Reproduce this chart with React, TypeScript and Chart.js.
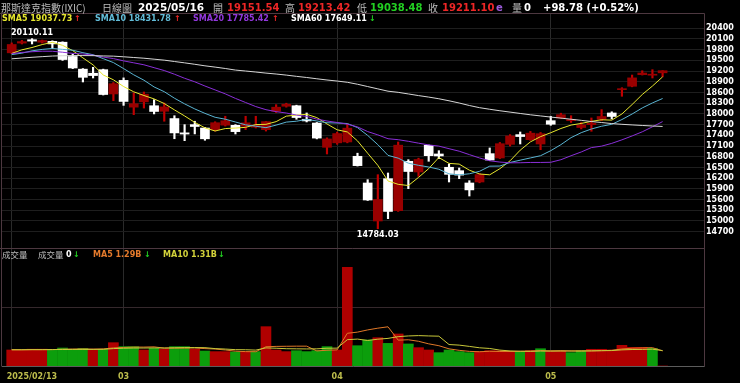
import React, { useEffect, useRef } from "react";
import { Chart, registerables } from "chart.js";

Chart.register(...registerables);

// ---------------- data ----------------
const X_TICK_INDEX = [0, 11, 32, 53];
const X_TICK_LABELS = ["2025/02/13", "03", "04", "05"];
const PRICE_TICKS = [14700, 15000, 15300, 15600, 15900, 16200, 16500, 16800, 17100, 17400, 17700, 18000, 18300, 18600, 18900, 19200, 19500, 19800, 20100, 20400];
const VOL_TICKS_B = [5];

const OPEN = [
  19712, 19985, 20080, 20010, 20035, 20010, 19610, 19255, 19140, 19240,
  18560, 18940, 18190, 18340, 18230, 18075, 17870, 17470, 17700, 17605,
  17560, 17685, 17680, 17655, 17630, 17560, 18075, 18215, 18230, 17850,
  17745, 17065, 17190, 17215, 16813, 16065, 15000, 16186, 15290, 16673,
  16373, 17121, 16878, 16505, 16410, 16065, 16093, 16887, 16766, 17148,
  17420, 17278, 17158, 17811, 17887, 17810, 17620, 17700, 17850, 18027,
  18680, 18775, 19100, 19085, 19151.54,
];
const HIGH = [
  19990, 20060, 20110.11, 20070, 20050, 20020, 19680, 19270, 19307, 19255,
  18880, 19010, 18590, 18615, 18400, 18307, 17950, 17700, 17795, 17620,
  17780, 17934, 17700, 17934, 17934, 17790, 18260, 18300, 18245, 18027,
  17760, 17330, 17490, 17718, 16900, 16158, 16298, 16345, 17214, 16718,
  16760, 17130, 16970, 16597, 16485, 16130, 16330, 17046, 17200, 17420,
  17494, 17510, 17480, 17934, 18020, 17950, 17760, 17887, 18121, 18060,
  18735, 19090, 19210, 19240, 19213.42,
];
const LOW = [
  19690, 19960, 19960, 19985, 19830, 19500, 19270, 18895, 19007, 18530,
  18372, 18240, 17980, 18165, 18000, 17795, 17305, 17250, 17440, 17262,
  17520, 17660, 17438, 17560, 17606, 17520, 18040, 18190, 17850, 17775,
  17300, 16878, 17150, 17190, 16540, 15575, 14784.03, 15065, 15270, 15905,
  16251, 16673, 16746, 16093, 16186, 15700, 16070, 16700, 16750, 17100,
  17158, 17260, 16998, 17681, 17870, 17760, 17580, 17514, 17811, 17860,
  18494, 18760, 19090, 19007, 19038.48,
];
const CLOSE = [
  19945.64, 20027, 20041, 20056, 19962, 19524, 19287, 19026, 19075, 18544,
  18847, 18350, 18285, 18553, 18069, 18196, 17468, 17436, 17648, 17303,
  17754, 17809, 17504, 17751, 17692, 17784, 18189, 18272, 17899, 17804,
  17323, 17299, 17450, 17601, 16551, 15588, 15603, 15268, 17125, 16387,
  16724, 16831, 16823, 16307, 16286, 15871, 16300, 16708, 17166, 17383,
  17366, 17461, 17446, 17711, 17978, 17844, 17690, 17738, 17928, 17929,
  18708, 19010, 19147, 19112, 19211.1,
];
const SMA5 = [
  19695, 19796, 19861, 19944, 20006, 19922, 19774, 19571, 19375, 19091,
  18956, 18768, 18620, 18516, 18421, 18291, 18114, 17944, 17763, 17610,
  17522, 17590, 17604, 17624, 17702, 17708, 17784, 17938, 17967, 17990,
  17897, 17719, 17555, 17495, 17245, 16898, 16559, 16122, 16027, 15994,
  16221, 16467, 16778, 16614, 16594, 16424, 16317, 16294, 16466, 16686,
  16985, 17217, 17364, 17473, 17592, 17688, 17734, 17792, 17836, 17826,
  17999, 18263, 18544, 18781, 19038,
];
const SMA10 = [
  19663, 19703, 19768, 19808, 19835, 19809, 19785, 19716, 19659, 19549,
  19439, 19271, 19096, 18945, 18756, 18623, 18441, 18282, 18140, 18016,
  17906, 17852, 17774, 17694, 17656, 17615, 17687, 17771, 17796, 17846,
  17803, 17752, 17746, 17731, 17617, 17398, 17139, 16839, 16761, 16620,
  16560, 16513, 16450, 16321, 16294, 16323, 16392, 16536, 16540, 16640,
  16704, 16767, 16829, 16970, 17139, 17336, 17475, 17578, 17655, 17709,
  17843, 17998, 18168, 18308, 18432,
];
const SMA20 = [
  19688, 19723, 19743, 19758, 19756, 19729, 19696, 19680, 19647, 19593,
  19551, 19487, 19432, 19377, 19296, 19216, 19113, 18999, 18900, 18782,
  18673, 18562, 18435, 18320, 18206, 18119, 18064, 18026, 17968, 17931,
  17854, 17802, 17760, 17713, 17637, 17506, 17413, 17305, 17278, 17233,
  17181, 17132, 17098, 17026, 16956, 16860, 16766, 16687, 16651, 16630,
  16632, 16640, 16640, 16645, 16717, 16829, 16934, 17057, 17097, 17175,
  17274, 17383, 17499, 17639, 17785,
];
const SMA60 = [
  19544, 19566, 19587, 19605, 19622, 19631, 19636, 19635, 19633, 19625,
  19619, 19601, 19581, 19561, 19534, 19507, 19469, 19431, 19391, 19348,
  19312, 19273, 19229, 19202, 19174, 19144, 19118, 19088, 19053, 19021,
  18985, 18951, 18921, 18887, 18832, 18767, 18702, 18637, 18605, 18560,
  18514, 18472, 18425, 18368, 18306, 18236, 18175, 18131, 18089, 18051,
  18013, 17976, 17944, 17912, 17883, 17851, 17820, 17787, 17759, 17730,
  17709, 17692, 17677, 17662, 17649,
];
// volume in billions
const VOLUME_B = [
  1.38, 1.38, 1.45, 1.45, 1.40, 1.55, 1.45, 1.52, 1.38, 1.44,
  2.01, 1.67, 1.67, 1.38, 1.52, 1.44, 1.67, 1.67, 1.44, 1.29,
  1.24, 1.24, 1.21, 1.24, 1.24, 3.39, 1.38, 1.24, 1.32, 1.24,
  1.32, 1.67, 1.38, 8.50, 1.75, 2.24, 2.44, 1.95, 2.76, 1.90,
  1.58, 1.38, 1.15, 1.38, 1.24, 1.15, 1.24, 1.32, 1.32, 1.24,
  1.24, 1.32, 1.49, 1.27, 1.27, 1.15, 1.32, 1.44, 1.44, 1.38,
  1.78, 1.61, 1.61, 1.52, 0,
];
const VOLUME_UP = [
  1, 1, 1, 1, 0, 0, 0, 0, 1, 0,
  1, 0, 0, 1, 0, 1, 0, 0, 1, 0,
  1, 1, 0, 1, 0, 1, 1, 1, 0, 0,
  0, 0, 1, 1, 0, 0, 1, 0, 1, 0,
  1, 1, 0, 0, 0, 0, 1, 1, 1, 1,
  0, 1, 0, 1, 1, 0, 0, 1, 1, 1,
  1, 1, 1, 0, 1,
];
const VOL_MA5_B = [
  1.40, 1.40, 1.41, 1.41, 1.41, 1.45, 1.46, 1.47, 1.46, 1.47,
  1.56, 1.60, 1.63, 1.63, 1.65, 1.54, 1.54, 1.54, 1.55, 1.50,
  1.46, 1.38, 1.28, 1.24, 1.23, 1.66, 1.69, 1.70, 1.71, 1.71,
  1.30, 1.36, 1.39, 2.82, 2.92, 3.11, 3.26, 3.38, 2.23, 2.26,
  2.13, 1.91, 1.75, 1.48, 1.35, 1.26, 1.23, 1.27, 1.25, 1.25,
  1.27, 1.29, 1.32, 1.31, 1.32, 1.30, 1.30, 1.29, 1.32, 1.35,
  1.47, 1.53, 1.56, 1.58, 1.30,
];
const VOL_MA10_B = [
  1.40, 1.40, 1.41, 1.41, 1.42, 1.42, 1.43, 1.43, 1.43, 1.44,
  1.50, 1.53, 1.55, 1.55, 1.56, 1.55, 1.57, 1.59, 1.59, 1.58,
  1.50, 1.46, 1.41, 1.40, 1.37, 1.56, 1.53, 1.49, 1.48, 1.47,
  1.48, 1.53, 1.54, 2.27, 2.32, 2.20, 2.31, 2.38, 2.53, 2.59,
  2.62, 2.59, 2.57, 1.85, 1.80, 1.69, 1.57, 1.51, 1.37, 1.30,
  1.27, 1.26, 1.29, 1.28, 1.29, 1.29, 1.29, 1.31, 1.32, 1.33,
  1.39, 1.42, 1.43, 1.45, 1.33,
];

// ---------------- layout / style ----------------
const X_MIN = -0.954;
const X_MAX = 68.07;
const PRICE_MIN = 10937;
const PRICE_MAX = 20800;
const VOL_MAX = 30.34e9;
const VOL_PANEL_TOP = 10.17e9;

const UP_BODY = "#990000";
const UP_WICK = "#c00000";
const DOWN = "#ffffff";
const VOL_RED = "#b00000";
const VOL_GREEN = "#0c9e0c";
const FRAME = "#4d3840";
const NUMF = '"DejaVu Sans", Verdana, sans-serif';
const CJKF = '"Noto Sans CJK TC", "Noto Sans CJK SC", sans-serif';

const overlay = {
  id: "overlay",
  afterDraw(chart: any) {
    const { ctx, chartArea: a, scales } = chart;
    const xs = scales.x, ys = scales.y, yv = scales.yVol;
    ctx.save();
    ctx.lineWidth = 1;
    ctx.strokeStyle = FRAME;
    ctx.beginPath();
    ctx.moveTo(0, a.top - 0.5);
    ctx.lineTo(a.right + 0.5, a.top - 0.5);
    ctx.moveTo(a.right + 0.5, a.top - 0.5);
    ctx.lineTo(a.right + 0.5, a.bottom + 0.5);
    ctx.moveTo(a.left - 0.5, a.top - 0.5);
    ctx.lineTo(a.left - 0.5, a.bottom + 0.5);
    const sep = Math.round(yv.getPixelForValue(VOL_PANEL_TOP)) + 0.5;
    ctx.moveTo(0, sep);
    ctx.lineTo(a.right + 0.5, sep);
    ctx.stroke();
    ctx.strokeStyle = "#5c5c5c";
    ctx.beginPath();
    ctx.moveTo(a.left, a.bottom + 0.5);
    ctx.lineTo(a.right + 0.5, a.bottom + 0.5);
    ctx.stroke();

    ctx.font = `bold 8px ${NUMF}`;
    ctx.fillStyle = "#bcbc4c";
    ctx.textBaseline = "middle";
    X_TICK_INDEX.forEach((v, k) => {
      const px = xs.getPixelForValue(v);
      ctx.textAlign = k === 0 ? "left" : "center";
      ctx.fillText(X_TICK_LABELS[k], k === 0 ? px - 5 : px, a.bottom + 11);
    });

    let hi = 0, lo = 0;
    HIGH.forEach((v, i) => { if (v > HIGH[hi]) hi = i; });
    LOW.forEach((v, i) => { if (v < LOW[lo]) lo = i; });
    ctx.fillStyle = "#ffffff";
    ctx.textAlign = "center";
    ctx.fillText(HIGH[hi].toFixed(2), xs.getPixelForValue(hi), ys.getPixelForValue(HIGH[hi]) - 6);
    ctx.fillText(LOW[lo].toFixed(2), xs.getPixelForValue(lo), ys.getPixelForValue(LOW[lo]) + 6);
    ctx.restore();
  },
};

type TextItem = { t: string; x: number; y: number; c: string; s: number; cjk?: boolean; b?: boolean };

const GRAY = "#bdbdbd";
const RED = "#ee2626";
const GREEN = "#22d022";
const TEXTS: TextItem[] = [
  { t: "那斯達克指數(IXIC)", x: 1, y: 7.5, c: GRAY, s: 10, cjk: true },
  { t: "日線圖", x: 102, y: 7.5, c: GRAY, s: 10, cjk: true },
  { t: "2025/05/16", x: 138, y: 7.5, c: "#ffffff", s: 10.5, b: true },
  { t: "開", x: 213, y: 7.5, c: GRAY, s: 10, cjk: true },
  { t: "19151.54", x: 227, y: 7.5, c: RED, s: 10, b: true },
  { t: "高", x: 285, y: 7.5, c: GRAY, s: 10, cjk: true },
  { t: "19213.42", x: 298, y: 7.5, c: RED, s: 10, b: true },
  { t: "低", x: 357, y: 7.5, c: GRAY, s: 10, cjk: true },
  { t: "19038.48", x: 370, y: 7.5, c: GREEN, s: 10, b: true },
  { t: "收", x: 428, y: 7.5, c: GRAY, s: 10, cjk: true },
  { t: "19211.10", x: 442, y: 7.5, c: RED, s: 10, b: true },
  { t: "e", x: 496, y: 7.5, c: "#9a5ad8", s: 10, b: true },
  { t: "量", x: 512, y: 7.5, c: GRAY, s: 10, cjk: true },
  { t: "0", x: 524, y: 7.5, c: "#ffffff", s: 10, b: true },
  { t: "+98.78 (+0.52%)", x: 543, y: 7.5, c: "#ffffff", s: 10, b: true },
  { t: "SMA5 19037.73", x: 2, y: 18.5, c: "#e6e62e", s: 8, b: true },
  { t: "↑", x: 74, y: 18.5, c: RED, s: 8, b: true },
  { t: "SMA10 18431.78", x: 95, y: 18.5, c: "#62bcd8", s: 8, b: true },
  { t: "↑", x: 174, y: 18.5, c: RED, s: 8, b: true },
  { t: "SMA20 17785.42", x: 193, y: 18.5, c: "#9238dc", s: 8, b: true },
  { t: "↑", x: 272, y: 18.5, c: RED, s: 8, b: true },
  { t: "SMA60 17649.11", x: 291, y: 18.5, c: "#ffffff", s: 8, b: true },
  { t: "↓", x: 369, y: 18.5, c: GREEN, s: 8, b: true },
  { t: "成交量", x: 2, y: 254, c: GRAY, s: 8.5, cjk: true },
  { t: "成交量", x: 38, y: 254, c: GRAY, s: 8.5, cjk: true },
  { t: "0", x: 66, y: 254, c: "#ffffff", s: 8, b: true },
  { t: "↓", x: 73, y: 254, c: GREEN, s: 8, b: true },
  { t: "MA5 1.29B", x: 93, y: 254, c: "#e47a2c", s: 8, b: true },
  { t: "↓", x: 144, y: 254, c: GREEN, s: 8, b: true },
  { t: "MA10 1.31B", x: 163, y: 254, c: "#d2d23a", s: 8, b: true },
  { t: "↓", x: 218, y: 254, c: GREEN, s: 8, b: true },
];

function lineDs(label: string, arr: number[], color: string, axis: string, scale: number) {
  return {
    type: "line",
    label,
    data: arr.map((v, i) => ({ x: i, y: v * scale })),
    borderColor: color,
    borderWidth: 1,
    pointRadius: 0,
    tension: 0,
    yAxisID: axis,
    order: 0,
  };
}

export default function App() {
  const ref = useRef<HTMLCanvasElement>(null);

  useEffect(() => {
    document.body.style.margin = "0";
    document.body.style.background = "#000";
    const canvas = ref.current;
    if (!canvas) return;
    const idx = CLOSE.map((_, i) => i);
    const up = CLOSE.map((c, i) => c >= OPEN[i]);
    const datasets: any[] = [
      lineDs("SMA60", SMA60, "#d6d6d6", "y", 1),
      lineDs("SMA20", SMA20, "#8a2fd8", "y", 1),
      lineDs("SMA10", SMA10, "#5ab4d2", "y", 1),
      lineDs("SMA5", SMA5, "#e6e62e", "y", 1),
      {
        type: "bar",
        label: "body",
        data: idx.map((i) => ({ x: i, y: [OPEN[i], CLOSE[i]] })),
        backgroundColor: up.map((u) => (u ? UP_BODY : DOWN)),
        barThickness: 9,
        minBarLength: 1,
        grouped: false,
        yAxisID: "y",
        order: 1,
      },
      {
        type: "bar",
        label: "wick",
        data: idx.map((i) => ({ x: i, y: [LOW[i], HIGH[i]] })),
        backgroundColor: up.map((u) => (u ? UP_WICK : DOWN)),
        barThickness: 1.5,
        grouped: false,
        yAxisID: "y",
        order: 2,
      },
      {
        type: "bar",
        label: "volume",
        data: idx.map((i) => ({ x: i, y: VOLUME_B[i] * 1e9 })),
        backgroundColor: VOLUME_UP.map((u) => (u ? VOL_RED : VOL_GREEN)),
        barThickness: 10,
        grouped: false,
        yAxisID: "yVol",
        order: 3,
      },
      lineDs("VMA10", VOL_MA10_B, "#c8c83a", "yVol", 1e9),
      lineDs("VMA5", VOL_MA5_B, "#e07828", "yVol", 1e9),
    ];
    const chart = new Chart(canvas, {
      type: "bar",
      data: { datasets },
      options: {
        responsive: false,
        maintainAspectRatio: false,
        animation: false,
        devicePixelRatio: 1,
        layout: { padding: { left: 2, top: 14, right: 0, bottom: 0 } },
        plugins: { legend: { display: false }, tooltip: { enabled: false } },
        events: [],
        scales: {
          x: {
            type: "linear",
            min: X_MIN,
            max: X_MAX,
            offset: false,
            grid: { color: "#2a2a2a", drawTicks: false, offset: false },
            border: { display: false },
            ticks: { display: false },
            afterBuildTicks: (s: any) => {
              s.ticks = X_TICK_INDEX.map((v) => ({ value: v }));
            },
            afterFit: (s: any) => {
              s.height = 17;
            },
          },
          yVol: {
            position: "right",
            min: 0,
            max: VOL_MAX,
            grid: { color: "#35282c", drawTicks: false },
            border: { display: false },
            ticks: {
              color: "#ffffff",
              padding: 2,
              font: { family: NUMF, size: 8, weight: "bold" },
              callback: (v: any) => (Number(v) / 1e9).toFixed(2) + "B",
            },
            afterBuildTicks: (s: any) => {
              s.ticks = VOL_TICKS_B.map((v) => ({ value: v * 1e9 }));
            },
            afterFit: (s: any) => {
              s.width = 0;
            },
          },
          y: {
            position: "right",
            min: PRICE_MIN,
            max: PRICE_MAX,
            grid: { color: "#1e1e1e", drawTicks: false },
            border: { display: false },
            ticks: {
              color: "#ffffff",
              padding: 2,
              font: { family: NUMF, size: 8, weight: "bold" },
              callback: (v: any) => String(v),
            },
            afterBuildTicks: (s: any) => {
              s.ticks = PRICE_TICKS.map((v) => ({ value: v }));
            },
            afterFit: (s: any) => {
              s.width = 36;
            },
          },
        },
      } as any,
      plugins: [overlay],
    });
    return () => chart.destroy();
  }, []);

  return (
    <div style={{ position: "fixed", left: 0, top: 0, width: 740, height: 383, background: "#000", overflow: "hidden" }}>
      <canvas ref={ref} width={740} height={383} style={{ position: "absolute", left: 0, top: 0, width: 740, height: 383 }} />
      {TEXTS.map((it, k) => {
        const lh = Math.round(it.s * 1.4);
        return (
          <span
            key={k}
            style={{
              position: "absolute",
              left: it.x,
              top: it.y - lh / 2,
              lineHeight: lh + "px",
              height: lh,
              fontSize: it.s,
              fontFamily: it.cjk ? CJKF : NUMF,
              fontWeight: it.b ? 700 : 400,
              color: it.c,
              whiteSpace: "pre",
            }}
          >
            {it.t}
          </span>
        );
      })}
    </div>
  );
}
